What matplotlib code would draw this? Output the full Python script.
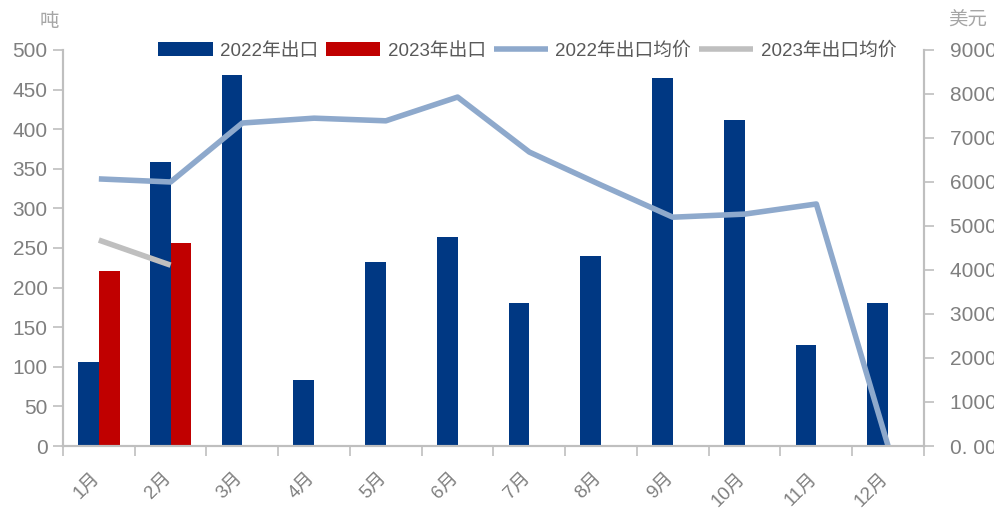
import numpy as np
import matplotlib.pyplot as plt
import matplotlib.transforms as mtransforms
from matplotlib.ticker import FuncFormatter

plt.rcParams['font.family'] = ['Liberation Sans', 'Noto Sans CJK SC', 'DejaVu Sans']

months = ['1月', '2月', '3月', '4月', '5月', '6月', '7月', '8月', '9月', '10月', '11月', '12月']
export_2022 = [106, 359, 468, 83, 232, 264, 181, 240, 465, 412, 128, 180]
export_2023 = [221, 256]
price_2022 = [6070, 6000, 7340, 7450, 7390, 7930, 6680, 5930, 5200, 5270, 5500, 0]
price_2023 = [4680, 4110]

blue = '#003883'
red = '#C00000'
line_blue = '#8EA9CC'
line_gray = '#BFBFBF'
axis_gray = '#BFBFBF'
text_gray = '#7F7F7F'

fig = plt.figure(figsize=(9.95, 5.11), dpi=100)
ax = fig.add_axes([0.0633, 0.1272, 0.8653, 0.775])
ax2 = ax.twinx()

x = np.arange(len(months))
w = 0.29
ax.bar(x - w / 2, export_2022, w, color=blue, label='2022年出口', zorder=2)
ax.bar(x[:len(export_2023)] + w / 2, export_2023, w, color=red, label='2023年出口', zorder=2)
ax2.plot(x, price_2022, color=line_blue, lw=4, label='2022年出口均价', solid_capstyle='butt')
ax2.plot(x[:len(price_2023)], price_2023, color=line_gray, lw=4, label='2023年出口均价', solid_capstyle='butt')

ax.set_xlim(-0.5, len(months) - 0.5)
ax.set_ylim(0, 500)
ax.set_yticks(range(0, 501, 50))
ax2.set_ylim(0, 9000)
ax2.set_yticks(range(0, 9001, 1000))
ax2.yaxis.set_major_formatter(FuncFormatter(lambda v, p: '%d. 00' % v))

ax.set_xticks(np.arange(-0.5, len(months), 1.0))
ax.set_xticklabels([])
ax.set_xticks(x, minor=True)
ax.set_xticklabels(months, minor=True, rotation=45, ha='right', va='top',
                   fontsize=13.5, color=text_gray, rotation_mode='anchor')
ax.tick_params(axis='x', which='minor', length=0, pad=17)
ax.tick_params(axis='x', which='major', length=7, color=axis_gray, width=1.2)
shift = mtransforms.ScaledTranslation(-8 / 100, 0, fig.dpi_scale_trans)
for lab in ax.get_xticklabels(minor=True):
    lab.set_transform(lab.get_transform() + shift)

for a in (ax, ax2):
    a.spines['top'].set_visible(False)
    for s in ('left', 'right', 'bottom'):
        a.spines[s].set_color(axis_gray)
        a.spines[s].set_linewidth(1.5)
    a.tick_params(axis='y', length=7, color=axis_gray, width=1.2, labelsize=15,
                  labelcolor=text_gray, pad=4)
ax2.tick_params(axis='y', pad=12)

ax.set_zorder(ax2.get_zorder() - 1)
ax.patch.set_visible(False)

fig.text(0.040, 0.948, '吨', fontsize=14, color='#A6A6A6', family=['Noto Sans CJK SC'])
fig.text(0.953, 0.950, '美元', fontsize=14, color='#A6A6A6', family=['Noto Sans CJK SC'])

h1, l1 = ax.get_legend_handles_labels()
h2, l2 = ax2.get_legend_handles_labels()
fig.legend(h1 + h2, l1 + l2, ncol=4, loc='center', bbox_to_anchor=(0.53, 0.9),
           frameon=False, handlelength=2.9, handleheight=0.75,
           columnspacing=0.4, handletextpad=0.4, labelcolor='#595959',
           prop={'family': ['Liberation Sans', 'Noto Sans CJK SC'], 'size': 13.5})

plt.savefig('out.png', dpi=100)
